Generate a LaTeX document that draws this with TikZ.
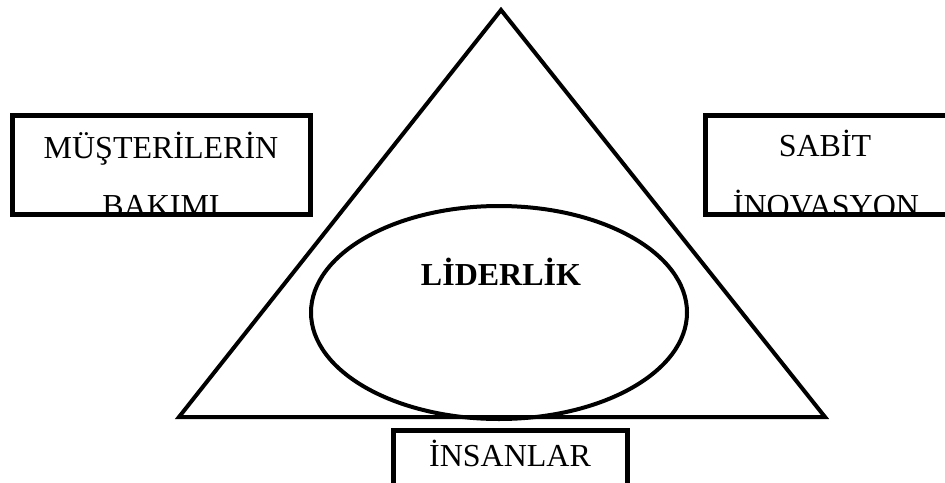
\documentclass[tikz,border=0pt]{standalone}
\usepackage{fontspec}
\setmainfont{Liberation Serif}
\usetikzlibrary{shapes.geometric}
\begin{document}
\begin{tikzpicture}[x=1pt,y=-1pt]
\tikzset{
  frame/.style={draw, line width=5pt, inner sep=0pt, rectangle},
  lbl/.style={font=\fontsize{32}{38}\selectfont, anchor=base, inner sep=0pt},
  thick line/.style={line width=4pt},
}
\useasboundingbox (0,0) rectangle (945,482);
\clip (0,0) rectangle (945,482);
% triangle
\coordinate (A) at (501,10);
\coordinate (B) at (179,417);
\coordinate (C) at (825,417);
\draw[thick line, line join=miter] (A) -- (B) -- (C) -- cycle;
% ellipse
\node[ellipse, draw, thick line, inner sep=0pt, minimum width=376pt, minimum height=213pt] (E) at (499,312.5) {};
\node[lbl, font=\fontsize{32}{38}\selectfont\bfseries] (Lid) at (501,285) {LİDERLİK};
% boxes
\node[frame, minimum width=298pt, minimum height=99pt] (Lb) at (161.5,165) {};
\node[frame, minimum width=249.5pt, minimum height=99pt] (Rb) at (830.25,165) {};
\node[frame, minimum width=234pt, minimum height=79.5pt] (Bb) at (510.5,470.25) {};
% clipped texts
\begin{scope}
  \clip ([xshift=2.5pt,yshift=2.5pt]Lb.south west) rectangle ([xshift=-2.5pt,yshift=-2.5pt]Lb.north east);
  \node[lbl] (L1) at (161,158) {MÜŞTERİLERİN};
  \node[lbl] (L2) at (161,216) {BAKIMI};
\end{scope}
\begin{scope}
  \clip ([xshift=2.5pt,yshift=2.5pt]Rb.south west) rectangle ([xshift=-2.5pt,yshift=-2.5pt]Rb.north east);
  \node[lbl] (R1) at (825,156) {SABİT};
  \node[lbl] (R2) at (826,216) {İNOVASYON};
\end{scope}
\node[lbl] (B1) at (510,466) {İNSANLAR};
\end{tikzpicture}
\end{document}
